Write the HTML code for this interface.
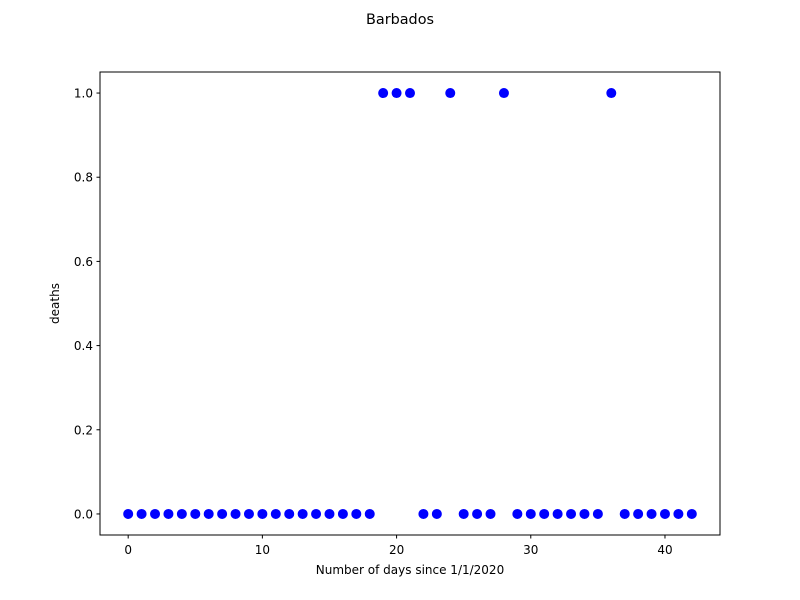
<!DOCTYPE html>
<html><head><meta charset="utf-8">
<style>
html,body{margin:0;padding:0;background:#fff;}
svg{display:block;font-family:"DejaVu Sans","Liberation Sans",sans-serif;}
</style></head>
<body>
<svg id="chart" width="800" height="600" viewBox="0 0 800 600">
<rect width="800" height="600" fill="#fff"/>
<text x="400" y="24" font-size="14.4" text-anchor="middle">Barbados</text>
<g id="marks"></g>
<rect x="100" y="72" width="620" height="463" fill="none" stroke="#000" stroke-width="1"/>
<g id="xticks"></g>
<g id="yticks"></g>
<text x="410" y="574" font-size="12" text-anchor="middle">Number of days since 1/1/2020</text>
<text transform="translate(59,303.5) rotate(-90)" font-size="12" text-anchor="middle">deaths</text>
</svg>
<script>
const days = [];
for (let i = 0; i <= 42; i++) days.push(i);
const deaths = [0,0,0,0,0,0,0,0,0,0,0,0,0,0,0,0,0,0,0,1,1,1,0,0,1,0,0,0,1,0,0,0,0,0,0,0,1,0,0,0,0,0,0];
const xTickValues = [0,10,20,30,40];
const yTickValues = [0,0.2,0.4,0.6,0.8,1.0];

const X0=100,X1=720,Y0=535,Y1=72;
const xmin=-2.1,xmax=44.1,ymin=-0.05,ymax=1.05;
const sx=v=>X0+(v-xmin)/(xmax-xmin)*(X1-X0);
const sy=v=>Y0-(v-ymin)/(ymax-ymin)*(Y0-Y1);
const NS="http://www.w3.org/2000/svg";
const marks=document.getElementById('marks');
days.forEach((d,i)=>{
  const c=document.createElementNS(NS,'circle');
  c.setAttribute('cx',sx(d));c.setAttribute('cy',sy(deaths[i]));c.setAttribute('r',5);c.setAttribute('fill','#0000ff');
  
  
  marks.appendChild(c);
});
const xt=document.getElementById('xticks');
xTickValues.forEach(v=>{
  const l=document.createElementNS(NS,'line');
  l.setAttribute('x1',sx(v));l.setAttribute('x2',sx(v));l.setAttribute('y1',Y0);l.setAttribute('y2',Y0+3.5);l.setAttribute('stroke','#000');
  
  
  xt.appendChild(l);
  const t=document.createElementNS(NS,'text');
  t.setAttribute('x',sx(v));t.setAttribute('y',554);t.setAttribute('font-size','12');t.setAttribute('text-anchor','middle');
  t.textContent=String(v);
  
  
  xt.appendChild(t);
});
const yt=document.getElementById('yticks');
yTickValues.forEach(v=>{
  const l=document.createElementNS(NS,'line');
  l.setAttribute('x1',X0-3.5);l.setAttribute('x2',X0);l.setAttribute('y1',sy(v));l.setAttribute('y2',sy(v));l.setAttribute('stroke','#000');
  
  
  yt.appendChild(l);
  const t=document.createElementNS(NS,'text');
  t.setAttribute('x',X0-7);t.setAttribute('y',sy(v)+4.5);t.setAttribute('font-size','12');t.setAttribute('text-anchor','end');
  t.textContent=v.toFixed(1);
  
  
  yt.appendChild(t);
});
</script>
</body></html>
